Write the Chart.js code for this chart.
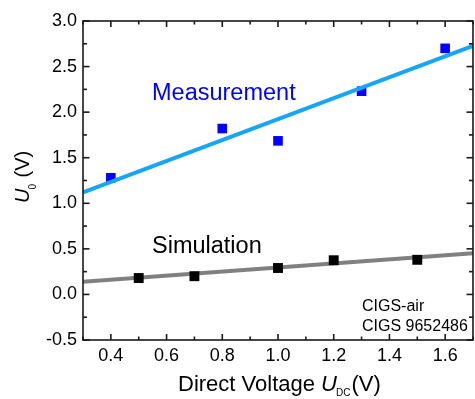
<!DOCTYPE html>
<html><head><meta charset="utf-8">
<script src="https://cdn.jsdelivr.net/npm/chart.js@4"></script>
<style>html,body{margin:0;padding:0;overflow:hidden;background:#fff;width:475px;height:399px}canvas{display:block}</style>
</head><body>
<canvas id="c" width="480" height="399"></canvas>
<script>
const measX = [0.4, 0.8, 1.0, 1.3, 1.6];
const measY = [1.28, 1.82, 1.685, 2.23, 2.70];
const simX = [0.5, 0.7, 1.0, 1.2, 1.5];
const simY = [0.18, 0.20, 0.29, 0.375, 0.38];
const measFitX = [0.3, 1.7];
const measFitY = [1.12, 2.727];
const simFitX = [0.3, 1.7];
const simFitY = [0.138, 0.452];
const xTickLabels = ['0.4','0.6','0.8','1.0','1.2','1.4','1.6'];
const yTickLabels = ['-0.5','0.0','0.5','1.0','1.5','2.0','2.5','3.0'];

const FONT = '"Liberation Sans", Arial, Helvetica, sans-serif';
const fmt = v => (Math.round(v * 100) / 100).toFixed(1);
const pts = (xs, ys) => xs.map((x, i) => ({x: x, y: ys[i]}));

const decor = {
  id: 'decor',
  afterDraw(chart) {
    const ctx = chart.ctx, ca = chart.chartArea;
    const xs = chart.scales.x, ys = chart.scales.y;
    ctx.save();
    ctx.strokeStyle = '#1a1a1a';
    ctx.lineWidth = 1.6;
    const line = (a, b, c, d) => { ctx.beginPath(); ctx.moveTo(a, b); ctx.lineTo(c, d); ctx.stroke(); };
    xs.ticks.forEach(t => {
      const p = xs.getPixelForValue(t.value);
      const L = xTickLabels.includes(fmt(t.value)) ? 6 : 3.5;
      line(p, ca.bottom, p, ca.bottom - L);
      line(p, ca.top, p, ca.top + L);
    });
    ys.ticks.forEach(t => {
      const p = ys.getPixelForValue(t.value);
      const L = yTickLabels.includes(fmt(t.value)) ? 6.5 : 4;
      line(ca.left, p, ca.left + L, p);
      line(ca.right, p, ca.right - L, p);
    });
    ctx.strokeRect(ca.left, ca.top, ca.right - ca.left, ca.bottom - ca.top);

    // annotations
    ctx.textBaseline = 'alphabetic';
    ctx.textAlign = 'left';
    ctx.fillStyle = '#0000ff';
    ctx.font = '23.5px ' + FONT;
    ctx.fillText('Measurement', 152, 99.5);
    ctx.fillStyle = '#000';
    ctx.fillText('Simulation', 152, 253);
    ctx.font = '16px ' + FONT;
    ctx.fillText('CIGS-air', 362, 311);
    ctx.fillText('CIGS 9652486', 362, 331);

    // x title
    const big = '22px ' + FONT, bigI = 'italic 22px ' + FONT, sub = '10px ' + FONT;
    let x = 178, by = 391;
    ctx.font = big; ctx.fillText('Direct Voltage ', x, by); x += ctx.measureText('Direct Voltage ').width;
    ctx.font = bigI; ctx.fillText('U', x, by); x += ctx.measureText('U').width;
    ctx.font = sub; ctx.fillText('DC', x - 1, by + 5); x += ctx.measureText('DC').width;
    ctx.font = big; ctx.fillText('(V)', x, by);

    // y title (rotated)
    ctx.save();
    ctx.translate(29, 203);
    ctx.rotate(-Math.PI / 2);
    let yx = 0;
    ctx.font = 'italic 20px ' + FONT; ctx.fillText('U', yx, 0); yx += ctx.measureText('U').width;
    ctx.font = '10px ' + FONT; ctx.fillText('0', yx - 1, 7); yx += ctx.measureText('0').width;
    ctx.font = '20px ' + FONT; ctx.fillText(' (V)', yx, 0);
    ctx.restore();
    ctx.restore();
  }
};

// Chart.js draws the first dataset on top
new Chart(document.getElementById('c'), {
  type: 'scatter',
  data: {
    datasets: [
      {label: 'Measurement fit', data: pts(measFitX, measFitY), showLine: true, pointRadius: 0,
       borderColor: '#15a6f7', borderWidth: 4, fill: false},
      {label: 'Measurement', data: pts(measX, measY), pointStyle: 'rect', pointRadius: 6.8, pointHoverRadius: 6.8,
       backgroundColor: '#0000ff', borderColor: '#3333ff', borderWidth: 0, showLine: false},
      {label: 'Simulation', data: pts(simX, simY), pointStyle: 'rect', pointRadius: 7, pointHoverRadius: 7,
       backgroundColor: '#000', borderColor: '#000', borderWidth: 0, showLine: false},
      {label: 'Simulation fit', data: pts(simFitX, simFitY), showLine: true, pointRadius: 0,
       borderColor: '#808080', borderWidth: 4, fill: false}
    ]
  },
  options: {
    responsive: false,
    animation: false,
    devicePixelRatio: 1,
    layout: {padding: {top: 21, right: 0, left: 0, bottom: 0}},
    plugins: {legend: {display: false}, tooltip: {enabled: false}},
    scales: {
      x: {
        type: 'linear', min: 0.3, max: 1.7,
        grid: {display: false, drawTicks: false}, border: {display: false},
        ticks: {stepSize: 0.1, autoSkip: false, maxRotation: 0, padding: 5, color: '#000',
                font: {family: FONT, size: 18},
                callback: v => { const s = fmt(v); return xTickLabels.includes(s) ? s : ''; }},
        afterFit: s => { s.height = 59; }
      },
      y: {
        type: 'linear', min: -0.5, max: 3.0,
        grid: {display: false, drawTicks: false}, border: {display: false},
        ticks: {stepSize: 0.25, autoSkip: false, padding: 6, color: '#000',
                font: {family: FONT, size: 18},
                callback: v => { const s = fmt(v); return yTickLabels.includes(s) ? s : ''; }},
        afterFit: s => { s.width = 83; }
      }
    }
  },
  plugins: [decor]
});
</script>
</body></html>
